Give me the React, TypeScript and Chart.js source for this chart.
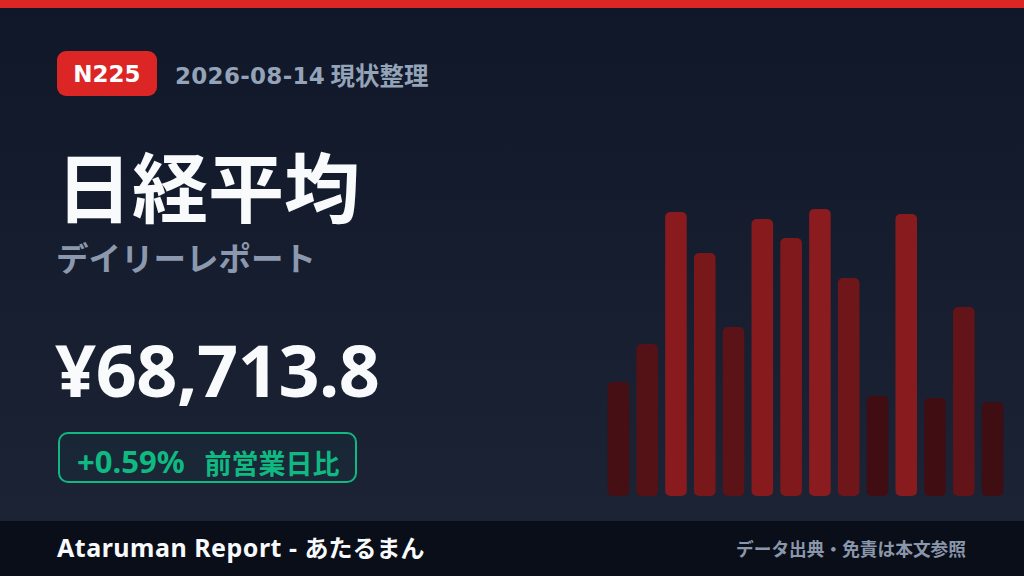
import { useEffect, useRef } from "react";
import { Chart, registerables } from "chart.js";

Chart.register(...registerables);

// 14 days of bar "intensity"
const days = ["1", "2", "3", "4", "5", "6", "7", "8", "9", "10", "11", "12", "13", "14"];
const intensity = [114, 152, 284, 243, 169, 277, 258, 287, 218, 100, 282, 98, 189, 94];

const CJK = '"Noto Sans CJK JP", sans-serif';
const LATIN = '"Noto Sans", "Noto Sans CJK JP", sans-serif';
const WIDE = '"DejaVu Sans", "Noto Sans CJK JP", sans-serif';

function barColor(v: number) {
  const lo = Math.min(...intensity);
  const hi = Math.max(...intensity);
  const t = (v - lo) / (hi - lo);
  const r = Math.round(62 + t * 76);
  const g = Math.round(14 + t * 13);
  const b = Math.round(18 + t * 12);
  return `rgb(${r}, ${g}, ${b})`;
}

function Bars() {
  const chartRef = useRef<HTMLCanvasElement>(null);
  const chartInstance = useRef<Chart | null>(null);

  useEffect(() => {
    if (!chartRef.current) return;
    if (chartInstance.current) chartInstance.current.destroy();
    const ctx = chartRef.current.getContext("2d");
    if (!ctx) return;

    chartInstance.current = new Chart(ctx, {
      type: "bar",
      data: {
        labels: days,
        datasets: [
          {
            data: intensity,
            backgroundColor: intensity.map(barColor),
            borderRadius: 5,
            borderSkipped: false,
            barPercentage: 0.75,
            categoryPercentage: 1,
          },
        ],
      },
      options: {
        responsive: true,
        maintainAspectRatio: false,
        animation: false,
        layout: { padding: 0 },
        scales: {
          x: { display: false },
          y: { display: false, min: 0, max: 300 },
        },
        plugins: {
          legend: { display: false },
          tooltip: { enabled: false },
        },
      },
    });

    return () => {
      if (chartInstance.current) {
        chartInstance.current.destroy();
        chartInstance.current = null;
      }
    };
  }, []);

  return <canvas ref={chartRef} />;
}

export default function App() {
  useEffect(() => {
    document.body.style.margin = "0";
  }, []);

  return (
    <div
      style={{
        position: "fixed",
        left: 0,
        top: 0,
        width: 1024,
        height: 576,
        overflow: "hidden",
        fontFamily: CJK,
        whiteSpace: "pre",
        background: "linear-gradient(180deg, #0f1729 0%, #1b2335 90%)",
      }}
    >
      <div style={{ position: "absolute", left: 0, top: 0, width: 1024, height: 8, background: "#dc2626" }} />

      <div
        style={{
          position: "absolute",
          left: 57,
          top: 51,
          width: 100,
          height: 45,
          borderRadius: 9,
          background: "#dc2626",
          color: "#fff",
          fontFamily: WIDE,
          fontWeight: 700,
          fontSize: 23,
          display: "flex",
          alignItems: "center",
          justifyContent: "center",
        }}
      >
        N225
      </div>
      <div
        style={{
          position: "absolute",
          left: 175,
          top: 61,
          fontFamily: WIDE,
          fontSize: 23,
          fontWeight: 700,
          letterSpacing: 0.3,
          color: "#94a3b8",
          lineHeight: "30px",
        }}
      >
        2026-08-14
      </div>
      <div
        style={{
          position: "absolute",
          left: 330.5,
          top: 56.5,
          fontSize: 24.5,
          fontWeight: 700,
          color: "#94a3b8",
        }}
      >
        現状整理
      </div>

      <div
        style={{
          position: "absolute",
          left: 56,
          top: 133.5,
          fontSize: 76,
          fontWeight: 700,
          color: "#f8fafc",
          lineHeight: "100px",
        }}
      >
        日経平均
      </div>
      <div
        style={{
          position: "absolute",
          left: 56,
          top: 234.5,
          fontSize: 32.5,
          fontWeight: 700,
          color: "#8b98ad",
          lineHeight: "44px",
        }}
      >
        デイリーレポート
      </div>

      <div
        style={{
          position: "absolute",
          left: 55,
          top: 321,
          fontFamily: LATIN,
          fontSize: 72,
          fontWeight: 700,
          letterSpacing: -0.5,
          color: "#f8fafc",
          lineHeight: "96px",
        }}
      >
        ¥68,713.8
      </div>

      <div
        style={{
          position: "absolute",
          left: 58,
          top: 432,
          width: 299,
          height: 51,
          boxSizing: "border-box",
          border: "2px solid #10b981",
          borderRadius: 10,
          background: "rgba(16,185,129,0.04)",
        }}
      />
      <div
        style={{
          position: "absolute",
          left: 77,
          top: 440.5,
          fontFamily: LATIN,
          fontSize: 31,
          fontWeight: 700,
          color: "#10b981",
          lineHeight: "40px",
        }}
      >
        +0.59%
      </div>
      <div
        style={{
          position: "absolute",
          left: 204.5,
          top: 443,
          fontSize: 27,
          fontWeight: 700,
          color: "#10b981",
        }}
      >
        前営業日比
      </div>

      <div style={{ position: "absolute", left: 604.4, top: 196, width: 403, height: 300 }}>
        <Bars />
      </div>

      <div
        style={{
          position: "absolute",
          left: 0,
          top: 521,
          width: 1024,
          height: 55,
          background: "#0a0e19",
        }}
      >
        <div
          style={{
            position: "absolute",
            left: 57,
            top: -2,
            lineHeight: "55px",
            fontWeight: 700,
            color: "#f8fafc",
          }}
        >
          <span style={{ fontFamily: LATIN, fontSize: 25, letterSpacing: 0.5 }}>Ataruman Report - </span>
          <span style={{ fontFamily: CJK, fontSize: 24 }}>あたるまん</span>
        </div>
        <div
          style={{
            position: "absolute",
            right: 58,
            top: 0,
            lineHeight: "55px",
            fontSize: 17.7,
            fontWeight: 700,
            color: "#8a96aa",
          }}
        >
          データ出典・免責は本文参照
        </div>
      </div>
    </div>
  );
}
